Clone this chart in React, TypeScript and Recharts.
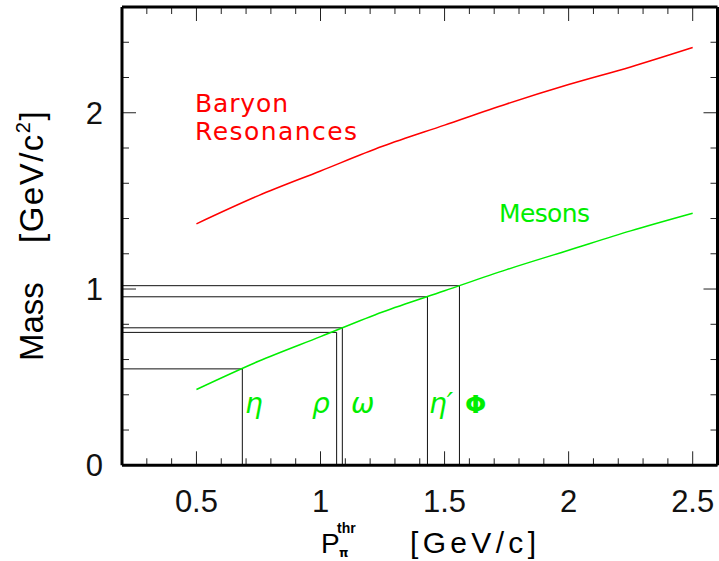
import { LineChart, Line, XAxis, YAxis, ReferenceLine } from 'recharts'

// pion momentum [GeV/c] where the two threshold curves are read
const momentum = [0.5, 0.75, 1.0, 1.25, 1.5, 1.75, 2.0, 2.25, 2.5]
const baryonMass = [1.37, 1.53, 1.67, 1.81, 1.93, 2.05, 2.16, 2.26, 2.37]
const mesonMass = [0.43, 0.59, 0.73, 0.87, 0.99, 1.11, 1.22, 1.33, 1.43]

// individual mesons: threshold momentum and mass
const mesonNames = ['η', 'ρ', 'ω', 'η′', 'Φ']
const mesonThreshold = [0.685, 1.065, 1.088, 1.431, 1.56]
const mesonMassValue = [0.547, 0.754, 0.78, 0.956, 1.019]

const xMajorTicks = [0.5, 1, 1.5, 2, 2.5]
const xMinorTicks = [0.3, 0.4, 0.6, 0.7, 0.8, 0.9, 1.1, 1.2, 1.3, 1.4, 1.6, 1.7, 1.8, 1.9, 2.1, 2.2, 2.3, 2.4]
const yMajorTicks = [0, 1, 2]
const yMinorTicks = [0.2, 0.4, 0.6, 0.8, 1.2, 1.4, 1.6, 1.8, 2.2, 2.4]

const X_DOMAIN: [number, number] = [0.2, 2.6]
const Y_DOMAIN: [number, number] = [0, 2.6]

const RED = '#ff0000'
const GREEN = '#00ee00'
const TICK = '#222'
const labelFont = 'DejaVu Sans'
const axisFont = 'Liberation Sans'

const curveData = momentum.map((p, i) => ({ p, baryon: baryonMass[i], meson: mesonMass[i] }))

// each meson: line from the mass axis to the curve, then down to the momentum axis
const mesonBoxes = mesonNames.map((name, i) => ({
  name,
  data: [
    { p: X_DOMAIN[0], m: mesonMassValue[i] },
    { p: mesonThreshold[i], m: mesonMassValue[i] },
    { p: mesonThreshold[i], m: 0 },
  ],
}))

// greek labels sit just right of each vertical line
const greekX = [245, 312, 351, 429, 465]

const frame = { stroke: '#000', strokeWidth: 3 }

// inward tick marks on both sides of the frame, drawn from a reference line's end points
const xTickShape = (len: number) => (props: any) => {
  const { x1, y1, y2 } = props
  const top = Math.min(y1, y2)
  const bottom = Math.max(y1, y2)
  return (
    <g>
      <line x1={x1} x2={x1} y1={bottom} y2={bottom - len} stroke={TICK} strokeWidth={1} />
      <line x1={x1} x2={x1} y1={top} y2={top + len} stroke={TICK} strokeWidth={1} />
    </g>
  )
}
const yTickShape = (len: number) => (props: any) => {
  const { x1, x2, y1 } = props
  const left = Math.min(x1, x2)
  const right = Math.max(x1, x2)
  return (
    <g>
      <line x1={left} x2={left + len} y1={y1} y2={y1} stroke={TICK} strokeWidth={1} />
      <line x1={right} x2={right - len} y1={y1} y2={y1} stroke={TICK} strokeWidth={1} />
    </g>
  )
}

export default function App() {
  return (
    <div style={{ position: 'absolute', left: 0, top: 0, width: 719, height: 561, background: '#fff' }}>
      <LineChart width={719} height={561} margin={{ top: 0, right: 0, bottom: 0, left: 0 }}>
        <XAxis xAxisId="x" type="number" dataKey="p" domain={X_DOMAIN} allowDataOverflow
          ticks={xMajorTicks} interval={0} height={95.7} tickSize={0} tickMargin={25}
          axisLine={frame} tickLine={false}
          tick={{ fontSize: 31, fill: '#111', fontFamily: axisFont }} />
        <XAxis xAxisId="xTop" orientation="top" type="number" dataKey="p" domain={X_DOMAIN} allowDataOverflow
          ticks={xMajorTicks} height={7} tick={false} tickLine={false} axisLine={frame} />
        <YAxis yAxisId="y" type="number" domain={Y_DOMAIN} allowDataOverflow
          ticks={yMajorTicks} interval={0} width={122} tickSize={0} tickMargin={19}
          axisLine={frame} tickLine={false}
          tick={{ fontSize: 31, fill: '#111', fontFamily: axisFont }} />
        <YAxis yAxisId="yRight" orientation="right" type="number" domain={Y_DOMAIN} allowDataOverflow
          ticks={yMajorTicks} width={1.5} tick={false} tickLine={false} axisLine={frame} />

        {xMinorTicks.map((v) => (
          <ReferenceLine key={`xm${v}`} xAxisId="x" yAxisId="y" x={v} shape={xTickShape(7)} />
        ))}
        {xMajorTicks.map((v) => (
          <ReferenceLine key={`xM${v}`} xAxisId="x" yAxisId="y" x={v} shape={xTickShape(14)} />
        ))}
        {yMinorTicks.map((v) => (
          <ReferenceLine key={`ym${v}`} xAxisId="x" yAxisId="y" y={v} shape={yTickShape(7)} />
        ))}
        {yMajorTicks.map((v) => (
          <ReferenceLine key={`yM${v}`} xAxisId="x" yAxisId="y" y={v} shape={yTickShape(14)} />
        ))}

        {mesonBoxes.map((b) => (
          <Line key={b.name} xAxisId="x" yAxisId="y" data={b.data} dataKey="m" type="linear"
            stroke="#111" strokeWidth={1} dot={false} isAnimationActive={false} />
        ))}
        <Line xAxisId="x" yAxisId="y" data={curveData} dataKey="baryon" type="monotone"
          stroke={RED} strokeWidth={1.5} dot={false} isAnimationActive={false} />
        <Line xAxisId="x" yAxisId="y" data={curveData} dataKey="meson" type="monotone"
          stroke={GREEN} strokeWidth={1.5} dot={false} isAnimationActive={false} />
      </LineChart>

      <svg width={719} height={561} style={{ position: 'absolute', left: 0, top: 0, pointerEvents: 'none' }}>
        <text x={195} y={112} fontSize={25} fill={RED} fontFamily={labelFont} textLength={93} lengthAdjust="spacing">Baryon</text>
        <text x={195} y={140} fontSize={25} fill={RED} fontFamily={labelFont} textLength={162} lengthAdjust="spacing">Resonances</text>
        <text x={499} y={222} fontSize={25} fill={GREEN} fontFamily={labelFont} textLength={91} lengthAdjust="spacing">Mesons</text>

        {mesonNames.map((n, i) => (
          <text key={n} x={greekX[i]} y={413} fontSize={n === 'Φ' ? 25 : 28} fill={GREEN} fontFamily={labelFont}
            fontStyle={n === 'Φ' ? 'normal' : 'italic'} fontWeight={n === 'Φ' ? 'bold' : 'normal'}>{n}</text>
        ))}

        {/* x title: P with pi subscript and thr superscript */}
        <text x={321} y={553} fontSize={28} fill="#000" fontFamily={axisFont}>P</text>
        <text x={337} y={533} fontSize={14} fontWeight="bold" fill="#000" fontFamily={axisFont}>thr</text>
        <text x={339} y={557} fontSize={12} fontWeight="bold" fill="#000" fontFamily={labelFont}>π</text>
        <text x={410} y={553} fontSize={30} fill="#000" fontFamily={axisFont} textLength={126} lengthAdjust="spacing">[GeV/c]</text>

        {/* y title */}
        <g transform="translate(43,361) rotate(-90)">
          <text x={0} y={0} fontSize={33} fill="#000" fontFamily={axisFont}>Mass</text>
          <text x={118} y={0} fontSize={33} fill="#000" fontFamily={axisFont} letterSpacing={1.5}>
            [GeV/c<tspan fontSize={20} dy={-13}>2</tspan><tspan dy={13}>]</tspan>
          </text>
        </g>
      </svg>
    </div>
  )
}
